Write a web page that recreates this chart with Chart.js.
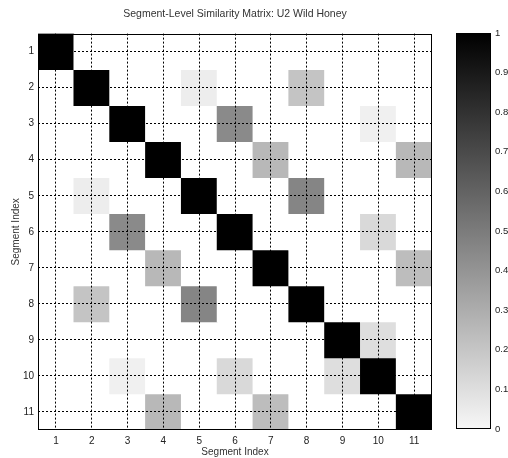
<!DOCTYPE html>
<html>
<head>
<meta charset="utf-8">
<script src="https://cdn.jsdelivr.net/npm/chart.js@4/dist/chart.umd.min.js"></script>
<style>
  html, body { margin: 0; padding: 0; background: #fff; }
  #wrap { position: relative; width: 508px; height: 458px; overflow: hidden; }
  #matrix { position: absolute; left: 0; top: 0; }
  #colorbar { position: absolute; left: 450px; top: 0; }
</style>
</head>
<body>
<div id="wrap">
  <canvas id="matrix" width="450" height="458"></canvas>
  <canvas id="colorbar" width="58" height="458"></canvas>
</div>
<script>
const segments = ['1', '2', '3', '4', '5', '6', '7', '8', '9', '10', '11'];
const segmentIdx = [1, 2, 3, 4, 5, 6, 7, 8, 9, 10, 11];

// similarity between segment pairs, one array per row
const similarity = [
  [1, 0, 0, 0, 0, 0, 0, 0, 0, 0, 0],
  [0, 1, 0, 0, 0.07, 0, 0, 0.23, 0, 0, 0],
  [0, 0, 1, 0, 0, 0.46, 0, 0, 0, 0.06, 0],
  [0, 0, 0, 1, 0, 0, 0.28, 0, 0, 0, 0.28],
  [0, 0.07, 0, 0, 1, 0, 0, 0.48, 0, 0, 0],
  [0, 0, 0.46, 0, 0, 1, 0, 0, 0, 0.15, 0],
  [0, 0, 0, 0.28, 0, 0, 1, 0, 0, 0, 0.26],
  [0, 0.23, 0, 0, 0.48, 0, 0, 1, 0, 0, 0],
  [0, 0, 0, 0, 0, 0, 0, 0, 1, 0.13, 0],
  [0, 0, 0.06, 0, 0, 0.15, 0, 0, 0.13, 1, 0],
  [0, 0, 0, 0.28, 0, 0, 0.26, 0, 0, 0, 1]
];

const colorbarTicks = [0, 0.1, 0.2, 0.3, 0.4, 0.5, 0.6, 0.7, 0.8, 0.9, 1];
const colorbarLabels = ['0', '0.1', '0.2', '0.3', '0.4', '0.5', '0.6', '0.7', '0.8', '0.9', '1'];

const FONT = '"Liberation Sans", Arial, sans-serif';

// inverted gray colormap: 0 -> white, 1 -> black
function grayOf(v) {
  const g = Math.round(255 * (1 - v));
  return `rgb(${g},${g},${g})`;
}

// axes box on all four sides
const boxPlugin = {
  id: 'box',
  afterDraw(chart) {
    const { ctx, chartArea: a } = chart;
    ctx.save();
    ctx.strokeStyle = '#000';
    ctx.lineWidth = 1;
    ctx.strokeRect(Math.round(a.left) + 0.5, Math.round(a.top) + 0.5,
      Math.round(a.right - a.left) - 1, Math.round(a.bottom - a.top) - 1);
    ctx.restore();
  }
};

// each row is a dataset of floating bars spanning one unit around its index
const datasets = similarity.map((row, i) => ({
  data: row.map(() => [segmentIdx[i] - 0.5, segmentIdx[i] + 0.5]),
  backgroundColor: row.map(grayOf),
  borderWidth: 0,
  barPercentage: 1,
  categoryPercentage: 1,
  grouped: false
}));

new Chart(document.getElementById('matrix'), {
  type: 'bar',
  data: { labels: segments, datasets },
  plugins: [boxPlugin],
  options: {
    responsive: false,
    animation: false,
    layout: { padding: { left: 0, right: 18, top: 0, bottom: 0 } },
    plugins: {
      legend: { display: false },
      tooltip: { enabled: false },
      title: {
        display: true,
        fullSize: false,
        text: 'Segment-Level Similarity Matrix: U2 Wild Honey',
        color: '#333',
        font: { family: FONT, size: 10.5, weight: 'normal' },
        padding: { top: 8, bottom: 13 }
      }
    },
    scales: {
      x: {
        offset: true,
        grid: { offset: false, color: '#000', drawTicks: false, z: 1 },
        border: { display: false, dash: [2, 2] },
        ticks: { color: '#222', font: { family: FONT, size: 10 }, padding: 5, maxRotation: 0 },
        title: {
          display: true, text: 'Segment Index', color: '#333',
          font: { family: FONT, size: 10 }, padding: { top: 0, bottom: 0 }
        },
        afterFit(s) { s.height = 28; }
      },
      y: {
        type: 'linear',
        reverse: true,
        min: 0.5,
        max: 11.5,
        afterBuildTicks(s) { s.ticks = segmentIdx.map(v => ({ value: v })); },
        grid: { color: '#000', drawTicks: false, z: 1 },
        border: { display: false, dash: [2, 2] },
        ticks: { color: '#222', font: { family: FONT, size: 10 }, padding: 4 },
        title: {
          display: true, text: 'Segment Index', color: '#333',
          font: { family: FONT, size: 10 }, padding: { top: 10, bottom: 0 }
        },
        afterFit(s) { s.width = 38; }
      }
    }
  }
});

// colorbar: a single bar filled with the colormap gradient
new Chart(document.getElementById('colorbar'), {
  type: 'bar',
  data: {
    labels: [''],
    datasets: [{
      data: [[0, 1]],
      borderWidth: 0,
      barPercentage: 1,
      categoryPercentage: 1,
      backgroundColor(c) {
        const a = c.chart.chartArea;
        if (!a) return '#888';
        const g = c.chart.ctx.createLinearGradient(0, a.bottom, 0, a.top);
        g.addColorStop(0, grayOf(0.03));
        g.addColorStop(1, grayOf(1));
        return g;
      }
    }]
  },
  plugins: [boxPlugin],
  options: {
    responsive: false,
    animation: false,
    layout: { padding: { left: 6, right: 0, top: 33, bottom: 29 } },
    plugins: { legend: { display: false }, tooltip: { enabled: false } },
    scales: {
      x: { display: false },
      y: {
        position: 'right',
        min: 0,
        max: 1,
        afterBuildTicks(s) { s.ticks = colorbarTicks.map(v => ({ value: v })); },
        grid: { display: false, drawTicks: false, tickLength: 0 },
        border: { display: false },
        ticks: {
          color: '#222', font: { family: FONT, size: 9.5 }, padding: 4,
          callback: (v, i) => colorbarLabels[i]
        },
        afterFit(s) { s.width = 17; }
      }
    }
  }
});
</script>
</body>
</html>
